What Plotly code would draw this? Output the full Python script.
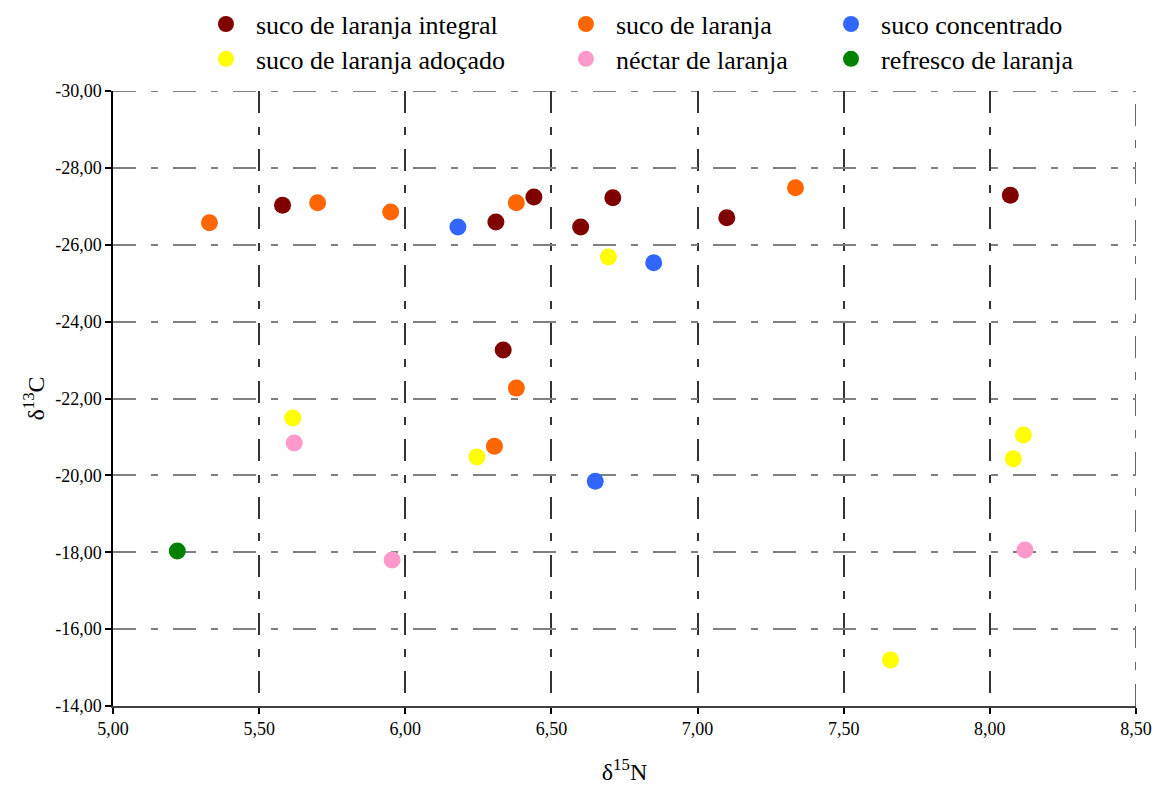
import plotly.graph_objects as go

# --- data (δ15N, δ13C) ---
integral_x = [5.58, 6.31, 6.44, 6.60, 6.71, 7.10, 8.07, 6.335]
integral_y = [-27.03, -26.59, -27.24, -26.46, -27.22, -26.70, -27.29, -23.26]

laranja_x = [5.33, 5.70, 5.95, 6.38, 7.335, 6.38, 6.305]
laranja_y = [-26.57, -27.09, -26.85, -27.09, -27.48, -22.27, -20.76]

concentrado_x = [6.18, 6.85, 6.65]
concentrado_y = [-26.46, -25.53, -19.85]

adocado_x = [6.695, 5.615, 6.245, 8.115, 8.08, 7.66]
adocado_y = [-25.68, -21.49, -20.48, -21.05, -20.43, -15.20]

nectar_x = [5.62, 5.955, 8.12]
nectar_y = [-20.84, -17.80, -18.06]

refresco_x = [5.22]
refresco_y = [-18.03]

x_ticks = [5.0, 5.5, 6.0, 6.5, 7.0, 7.5, 8.0, 8.5]
x_ticktext = ["5,00", "5,50", "6,00", "6,50", "7,00", "7,50", "8,00", "8,50"]
y_ticks = [-30, -28, -26, -24, -22, -20, -18, -16, -14]
y_ticktext = ["-30,00", "-28,00", "-26,00", "-24,00", "-22,00", "-20,00",
              "-18,00", "-16,00", "-14,00"]

FONT = "Liberation Serif"
HDASH = "23px,15px,7px,15px"
VDASH = "22px,14px,8px,14px"

series = [
    ("suco de laranja integral", integral_x, integral_y, "#800000", "legend"),
    ("suco de laranja", laranja_x, laranja_y, "#FF6600", "legend2"),
    ("suco concentrado", concentrado_x, concentrado_y, "#3366FF", "legend3"),
    ("suco de laranja adoçado", adocado_x, adocado_y, "#FFFF00", "legend4"),
    ("néctar de laranja", nectar_x, nectar_y, "#FF99CC", "legend5"),
    ("refresco de laranja", refresco_x, refresco_y, "#008000", "legend6"),
]

fig = go.Figure()
for name, xs, ys, col, lg in series:
    fig.add_trace(go.Scatter(
        x=xs, y=ys, mode="markers", name=name, legend=lg,
        marker=dict(color=col, size=17, line=dict(width=0)),
    ))

# legend placement (paper coords relative to plot area)
col_x = [0.0811, 0.4330, 0.6921]
row_y = [1.1088, 1.0521]
legend_common = dict(font=dict(family=FONT, size=26, color="black"),
                     bgcolor="rgba(0,0,0,0)", borderwidth=0,
                     itemwidth=50, xanchor="left", yanchor="middle")
layouts = {}
names = ["legend", "legend2", "legend3", "legend4", "legend5", "legend6"]
for i, ln in enumerate(names):
    r, c = divmod(i, 3)
    layouts[ln] = dict(x=col_x[c], y=row_y[r], **legend_common)

# gridlines at the range edges (Plotly clips these), drawn as shapes
shapes = [
    dict(type="line", xref="paper", x0=0, x1=1, yref="y", y0=y_ticks[0], y1=y_ticks[0],
         line=dict(color="#808080", width=2, dash=HDASH), layer="below"),
    dict(type="line", yref="paper", y0=0, y1=1, xref="x", x0=x_ticks[-1], x1=x_ticks[-1],
         line=dict(color="#333333", width=1.5, dash=VDASH), layer="below"),
]

fig.update_layout(
    width=1158, height=790,
    margin=dict(l=113, r=22, t=91, b=84, autoexpand=False),
    paper_bgcolor="white", plot_bgcolor="white",
    font=dict(family=FONT, size=18, color="black"),
    showlegend=True,
    shapes=shapes,
    **layouts,
)

fig.update_xaxes(
    range=[5.0, 8.5], tickvals=x_ticks, ticktext=x_ticktext,
    showline=True, linecolor="#404040", linewidth=1.5,
    ticks="outside", ticklen=6, tickcolor="black", tickwidth=1.5,
    showgrid=True, gridcolor="#333333", gridwidth=1.5,
    griddash=VDASH,
    zeroline=False,
    tickfont=dict(family=FONT, size=18),
    title=dict(text="δ<sup>15</sup>N", font=dict(family=FONT, size=24), standoff=25),
)
fig.update_yaxes(
    range=[-14, -30], tickvals=y_ticks, ticktext=y_ticktext,
    showline=True, linecolor="black", linewidth=1.5,
    ticks="outside", ticklen=6, tickcolor="black", tickwidth=1.5,
    showgrid=True, gridcolor="#808080", gridwidth=2,
    griddash=HDASH,
    zeroline=False,
    tickfont=dict(family=FONT, size=18),
    title=dict(text="δ<sup>13</sup>C", font=dict(family=FONT, size=24), standoff=4),
)

fig.write_html("out.html",
               config={"displayModeBar": False},
               post_script="document.body.style.margin='0';document.body.style.overflow='hidden';")
